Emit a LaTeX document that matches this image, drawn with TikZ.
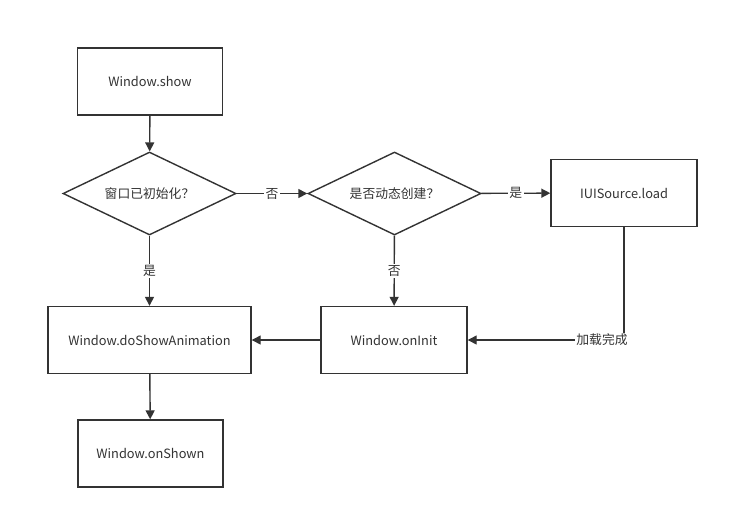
\documentclass[tikz,border=0pt]{standalone}
\usepackage{fontspec}
\setmainfont{Noto Sans CJK SC}
\usetikzlibrary{shapes.geometric,arrows.meta}
\definecolor{ln}{HTML}{333333}
\tikzset{
  every node/.style={font=\fontsize{9.6}{12}\selectfont, text=ln},
  box/.style={draw=ln, line width=1.4pt*0.75, fill=white, minimum width=145*0.75pt, minimum height=67*0.75pt, inner sep=0pt},
  dia/.style={draw=ln, line width=1.4pt*0.75, fill=white, diamond, minimum width=173*0.75pt, minimum height=83*0.75pt, inner sep=0pt, aspect=2.08},
  arr/.style={draw=ln, line width=1.4pt*0.75, -{Triangle[length=9pt*0.75, width=9pt*0.75]}},
  lbl/.style={fill=white, inner sep=1pt}
}
\begin{document}
\begin{tikzpicture}[x=0.75pt, y=-0.75pt]
\useasboundingbox (0,0) rectangle (730,519);
\fill[white] (0,0) rectangle (730,519);
\node[box] (show) at (150,81.5) {Window.show};
\node[dia, minimum width=173*0.75pt, minimum height=83*0.75pt] (d1) at (149.5,193.5) {窗口已初始化？};
\node[dia] (d2) at (394.5,193.5) {是否动态创建？};
\node[box, minimum width=146*0.75pt] (load) at (624,193) {IUISource.load};
\node[box, minimum width=203*0.75pt] (anim) at (149.5,340) {Window.doShowAnimation};
\node[box, minimum width=146*0.75pt] (init) at (394,340) {Window.onInit};
\node[box] (shown) at (150.5,453.5) {Window.onShown};
\coordinate (corner) at (624,340);

\draw[arr] (show) -- (d1);
\draw[arr] (d1) -- node[lbl] {否} (d2);
\draw[arr] (d2) -- node[lbl] {是} (load);
\draw[arr] (d1) -- node[lbl] {是} (anim);
\draw[arr] (d2) -- node[lbl] {否} (init);
\draw[arr] (init) -- (anim);
\draw[arr] (anim) -- (shown);
\draw[arr] (load) -- (corner) -- (init);
\node[lbl] (done) at (602,340) {加载完成};
\end{tikzpicture}
\end{document}
